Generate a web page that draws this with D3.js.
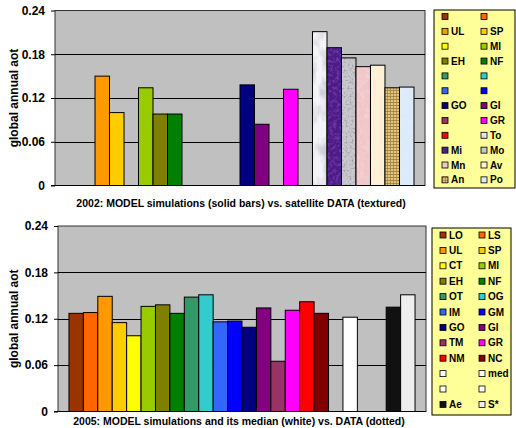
<!DOCTYPE html>
<html>
<head>
<meta charset="utf-8">
<script src="https://cdn.jsdelivr.net/npm/d3@7"></script>
<style>
  body { margin: 0; background: #fff; }
  svg text { font-family: "Liberation Sans", Arial, sans-serif; font-weight: bold; }
</style>
</head>
<body>
<div id="chart"></div>
<script>
// series (legend order, 2 columns, row by row)
const series2002 = ["LO","LS","UL","SP","CT","MI","EH","NF","OT","OG","IM","GM","GO","GI","TM","GR","NM","To","Mi","Mo","Mn","Av","An","Po"];
const labels2002 = ["","","UL","SP","","MI","EH","NF","","","","","GO","GI","","GR","","To","Mi","Mo","Mn","Av","An","Po"];
const values2002 = [null,null,0.150,0.100,null,0.134,0.098,0.098,null,null,null,null,0.138,0.084,null,0.132,null,0.211,0.189,0.175,0.163,0.165,0.134,0.135];

const series2005 = ["LO","LS","UL","SP","CT","MI","EH","NF","OT","OG","IM","GM","GO","GI","TM","GR","NM","NC","b1","med","b2","b3","Ae","S*"];
const labels2005 = ["LO","LS","UL","SP","CT","MI","EH","NF","OT","OG","IM","GM","GO","GI","TM","GR","NM","NC","","med","","","Ae","S*"];
const values2005 = [0.127,0.128,0.149,0.115,0.098,0.136,0.138,0.127,0.148,0.151,0.116,0.117,0.109,0.134,0.065,0.131,0.142,0.127,null,0.122,null,null,0.135,0.151];

const yTicks = [0, 0.06, 0.12, 0.18, 0.24];

const colors = {
  LO:"#993300", LS:"#FF6600", UL:"#FF9900", SP:"#FFCC00", CT:"#FFFF00", MI:"#99CC00",
  EH:"#808000", NF:"#008000", OT:"#339966", OG:"#33CCCC", IM:"#3366FF", GM:"#0000FF",
  GO:"#000080", GI:"#800080", TM:"#993366", GR:"#FF00FF", NM:"#FF0000", NC:"#800000",
  To:"url(#marble)", Mi:"url(#violet)", Mo:"url(#granite)", Mn:"url(#pink)",
  Av:"url(#cream)", An:"url(#burlap)", Po:"url(#ice)",
  b1:"#FFFFFF", med:"#FFFFFF", b2:"#FFFFFF", b3:"#FFFFFF", Ae:"#111111", "S*":"#EEEEEE"
};

const svg = d3.select("#chart").append("svg")
  .attr("width", 516).attr("height", 428);

// textures for the satellite data bars
const defs = svg.append("defs");
function texture(id, base, freq, tint, amount, cut) {
  let f = defs.append("filter").attr("id", id + "F")
    .attr("x", 0).attr("y", 0).attr("width", 1).attr("height", 1);
  f.append("feTurbulence").attr("type", "fractalNoise")
    .attr("baseFrequency", freq).attr("numOctaves", 3).attr("seed", 4).attr("result", "n");
  f.append("feColorMatrix").attr("in", "n").attr("type", "matrix")
    .attr("values", "0 0 0 0 " + tint[0] + " 0 0 0 0 " + tint[1] + " 0 0 0 0 " + tint[2] + " " + amount + " 0 0 0 " + (-amount * cut))
    .attr("result", "c");
  f.append("feFlood").attr("flood-color", base).attr("result", "b");
  f.append("feComposite").attr("in", "c").attr("in2", "b").attr("operator", "over");
  let p = defs.append("pattern").attr("id", id).attr("patternUnits", "userSpaceOnUse")
    .attr("width", 60).attr("height", 200);
  p.append("rect").attr("width", 60).attr("height", 200).attr("filter", "url(#" + id + "F)");
}
texture("marble", "#F4F4F6", "0.09 0.05", [0.62, 0.62, 0.68], 3, 0.42);
texture("violet", "#4A1C86", "0.3", [0.22, 0.05, 0.45], 2, 0.45);
texture("granite", "#CACACE", "0.5", [0.35, 0.35, 0.4], 3, 0.45);
texture("pink", "#F1C6C8", "0.2", [0.9, 0.75, 0.78], 1.2, 0.45);
texture("cream", "#FFF1D6", "0.2", [0.95, 0.88, 0.75], 1.0, 0.45);
texture("ice", "#DCEBFA", "0.2", [0.8, 0.88, 0.97], 1.0, 0.45);
// burlap: woven look
let bp = defs.append("pattern").attr("id", "burlap").attr("patternUnits", "userSpaceOnUse")
  .attr("width", 3).attr("height", 3);
bp.append("rect").attr("width", 3).attr("height", 3).attr("fill", "#E2C784");
bp.append("rect").attr("width", 3).attr("height", 1).attr("fill", "#B08A3E");
bp.append("rect").attr("width", 1).attr("height", 3).attr("fill", "#9C7A36").attr("opacity", 0.7);

function drawPanel(cfg) {
  let g = svg.append("g");
  let y = d3.scaleLinear().domain([0, 0.24]).range([cfg.bottom, cfg.top]);
  let x = d3.scaleBand().domain(cfg.series).range([cfg.left, cfg.right])
    .paddingInner(0).paddingOuter(0.76);

  g.append("rect")
    .attr("x", cfg.left).attr("y", cfg.top)
    .attr("width", cfg.right - cfg.left).attr("height", cfg.bottom - cfg.top)
    .attr("fill", "#C0C0C0").attr("stroke", "#333").attr("stroke-width", 1);

  g.selectAll(".grid").data(yTicks.slice(1, -1)).enter().append("line")
    .attr("x1", cfg.left).attr("x2", cfg.right)
    .attr("y1", d => Math.round(y(d)) + 0.5).attr("y2", d => Math.round(y(d)) + 0.5)
    .attr("stroke", "#000").attr("stroke-width", 1);

  let data = cfg.series.map((s, i) => ({ s: s, v: cfg.values[i] })).filter(d => d.v != null);
  g.selectAll(".bar").data(data).enter().append("rect")
    .attr("x", d => x(d.s))
    .attr("y", d => y(d.v))
    .attr("width", x.bandwidth())
    .attr("height", d => y(0) - y(d.v))
    .attr("fill", d => colors[d.s])
    .attr("stroke", "#000").attr("stroke-width", 1);

  let ax = g.append("g")
    .attr("transform", "translate(" + (cfg.left) + ",0)")
    .call(d3.axisLeft(y).tickValues(yTicks).tickFormat(d => d === 0 ? "0" : d3.format(".2f")(d)).tickSize(4).tickPadding(6));
  ax.select(".domain").remove();
  ax.selectAll("line").attr("stroke", "#000");
  ax.selectAll("text").attr("font-size", 12).attr("fill", "#000");

  g.append("line")
    .attr("x1", cfg.left - 4).attr("x2", cfg.right)
    .attr("y1", y(0)).attr("y2", y(0))
    .attr("stroke", "#000").attr("stroke-width", 1.2);

  g.append("text")
    .attr("transform", "translate(14," + ((cfg.top + cfg.bottom) / 2) + ") rotate(-90)")
    .attr("text-anchor", "middle").attr("dy", "0.35em")
    .attr("font-size", 12).text("global annual aot");

  g.append("text")
    .attr("x", cfg.titleX).attr("y", cfg.titleY)
    .attr("text-anchor", "middle").attr("font-size", 10.5)
    .text(cfg.title);

  // legend
  let lg = g.append("g");
  lg.append("rect")
    .attr("x", cfg.legX).attr("y", cfg.legTop)
    .attr("width", cfg.legW).attr("height", cfg.legH)
    .attr("fill", "#FFFF99").attr("stroke", "#000").attr("stroke-width", 1);
  let items = lg.selectAll(".item").data(cfg.series).enter().append("g")
    .attr("transform", (d, i) => "translate(" + (cfg.legX + 8 + (i % 2) * 39) + "," + (cfg.legTop + cfg.legPad + Math.floor(i / 2) * cfg.legStep) + ")");
  items.append("rect")
    .attr("x", 0).attr("y", -3).attr("width", 6).attr("height", 6)
    .attr("fill", d => colors[d]).attr("stroke", "#000").attr("stroke-width", 0.8);
  items.append("text")
    .attr("x", 9).attr("dy", "0.36em").attr("font-size", 10)
    .text((d, i) => cfg.labels[i]);
}

drawPanel({
  series: series2002, labels: labels2002, values: values2002,
  left: 55, right: 425, top: 10.5, bottom: 185.5,
  title: "2002: MODEL simulations (solid bars) vs. satellite DATA (textured)",
  titleX: 241, titleY: 207,
  legX: 434, legTop: 10, legW: 81, legH: 178, legPad: 6.5, legStep: 14.85
});

drawPanel({
  series: series2005, labels: labels2005, values: values2005,
  left: 58, right: 426, top: 226, bottom: 411.5,
  title: "2005: MODEL simulations and its median (white) vs. DATA (dotted)",
  titleX: 239, titleY: 425,
  legX: 432, legTop: 228, legW: 79, legH: 187, legPad: 7, legStep: 15.4
});
</script>
</body>
</html>
